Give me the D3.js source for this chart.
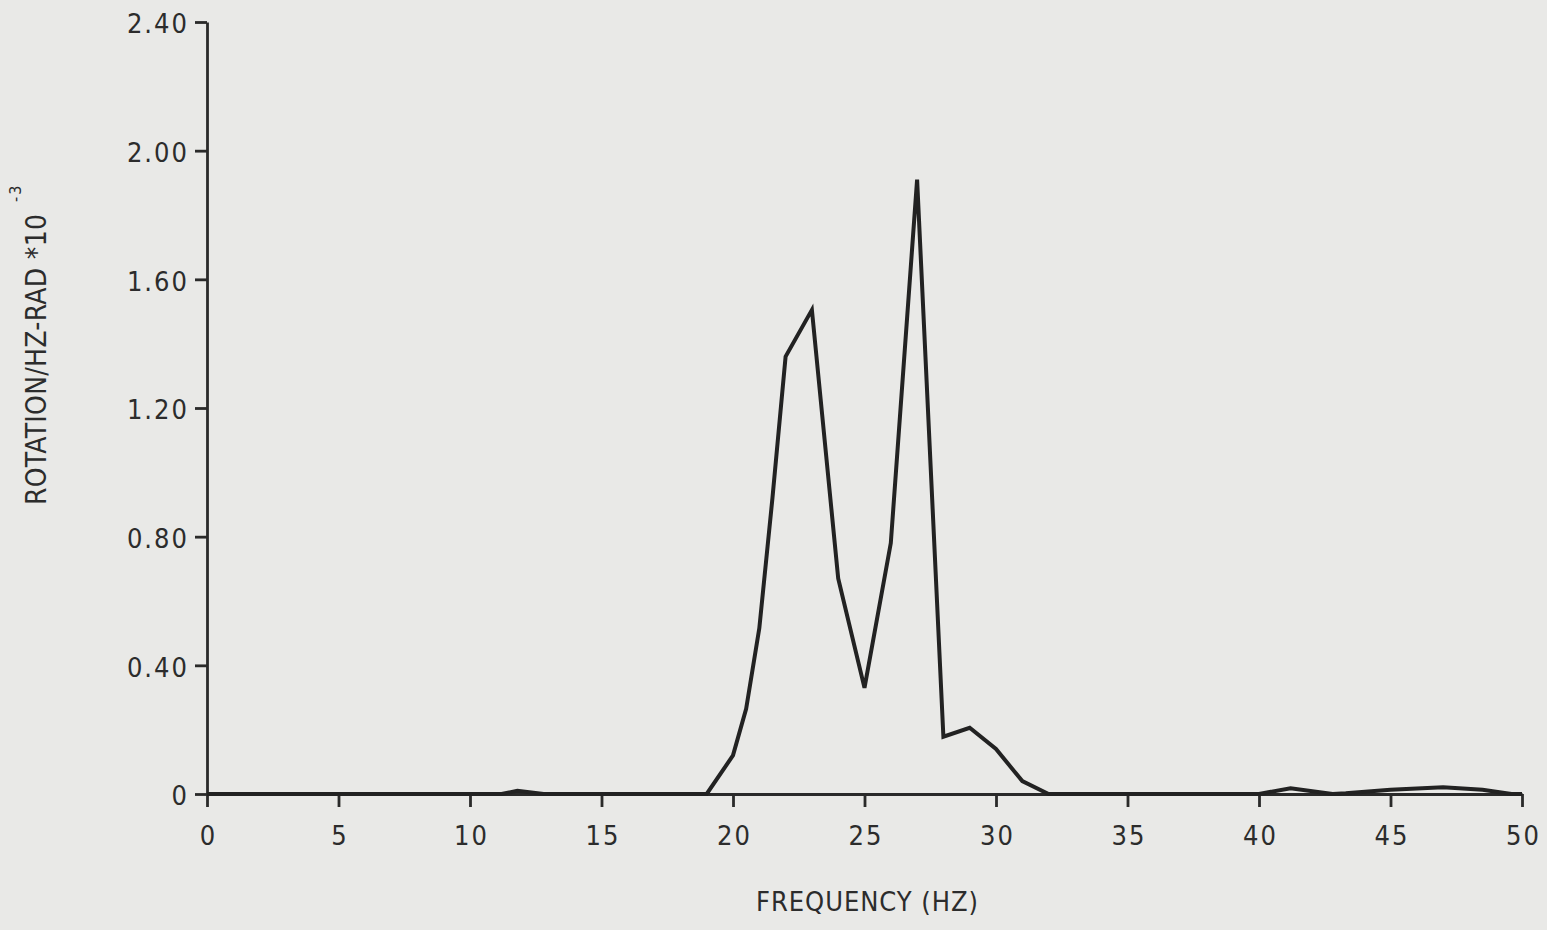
<!DOCTYPE html>
<html>
<head>
<meta charset="utf-8">
<script src="https://cdn.jsdelivr.net/npm/d3@7"></script>
<style>
    html, body { margin: 0; padding: 0; background: #e9e9e7; }
    svg { display: block; }
    .tick text { font-family: "DejaVu Sans Condensed", "DejaVu Sans", sans-serif; font-size: 27px; letter-spacing: 2px; fill: #2c2c2c; }
    .axis path, .axis line { stroke: #2a2a2a; stroke-width: 2.8px; }
    .title { font-family: "DejaVu Sans Condensed", "DejaVu Sans", sans-serif; fill: #2c2c2c; }
</style>
</head>
<body>
<div id="vis"></div>
<script>
// spectrum: frequency (Hz) and rotation/Hz-rad (x 10^-3)
var frequency = [0, 5, 10, 11.2, 11.8, 12.8, 15, 19, 20, 20.5, 21, 21.5, 22, 23, 24, 25, 26, 27, 28, 29, 30, 31, 32, 35, 40, 41.2, 42.8, 43.3, 45, 47, 48.5, 49.6, 50];
var rotation  = [0, 0, 0, 0, 0.01, 0, 0, 0, 0.12, 0.265, 0.515, 0.92, 1.36, 1.505, 0.67, 0.33, 0.78, 1.91, 0.178, 0.206, 0.14, 0.04, 0, 0, 0, 0.018, 0, 0.002, 0.013, 0.021, 0.013, 0, 0];

var xTicks = [0, 5, 10, 15, 20, 25, 30, 35, 40, 45, 50];
var yTicks = [0, 0.4, 0.8, 1.2, 1.6, 2.0, 2.4];
var yTickLabels = ["0", "0.40", "0.80", "1.20", "1.60", "2.00", "2.40"];

var xTitle = "FREQUENCY (HZ)";
var yTitle = "ROTATION/HZ-RAD *10";
var yTitleExp = "-3";

var width = 1547, height = 930;

var svg = d3.select("#vis")
    .append("svg")
    .attr("width", width)
    .attr("height", height);

var x = d3.scaleLinear().domain([0, 50]).range([207, 1522]);
var y = d3.scaleLinear().domain([0, 2.4]).range([794, 22]);

var xAxis = d3.axisBottom(x)
    .tickValues(xTicks)
    .tickFormat(d3.format("d"))
    .tickSize(13)
    .tickSizeOuter(0)
    .tickPadding(19);

var yAxis = d3.axisLeft(y)
    .tickValues(yTicks)
    .tickFormat(function(d, i){ return yTickLabels[i]; })
    .tickSize(12)
    .tickSizeOuter(0)
    .tickPadding(6);

svg.append("g")
    .attr("class", "axis")
    .attr("transform", "translate(0," + y(0) + ")")
    .call(xAxis)
    .selectAll("text")
    .attr("dx", "1px");

svg.append("g")
    .attr("class", "axis")
    .attr("transform", "translate(" + x(0) + ",0)")
    .call(yAxis)
    .selectAll("text")
    .attr("dy", "0.4em");

var points = frequency.map(function(f, i){ return [f, rotation[i]]; });

var line = d3.line()
    .x(function(d){ return x(d[0]); })
    .y(function(d){ return y(d[1]); });

svg.append("path")
    .datum(points)
    .attr("fill", "none")
    .attr("stroke", "#222")
    .attr("stroke-width", 4)
    .attr("stroke-linejoin", "miter")
    .attr("d", line);

// axis titles
svg.append("text")
    .attr("class", "title")
    .attr("x", 756)
    .attr("y", 911)
    .attr("font-size", 27)
    .attr("textLength", 222)
    .attr("lengthAdjust", "spacing")
    .text(xTitle);

svg.append("text")
    .attr("class", "title")
    .attr("transform", "translate(46,505) rotate(-90)")
    .attr("font-size", 28)
    .attr("textLength", 291)
    .attr("lengthAdjust", "spacing")
    .text(yTitle);

svg.append("text")
    .attr("class", "title")
    .attr("transform", "translate(21,202) rotate(-90)")
    .attr("font-size", 16)
    .attr("letter-spacing", "2px")
    .text(yTitleExp);
</script>
</body>
</html>
